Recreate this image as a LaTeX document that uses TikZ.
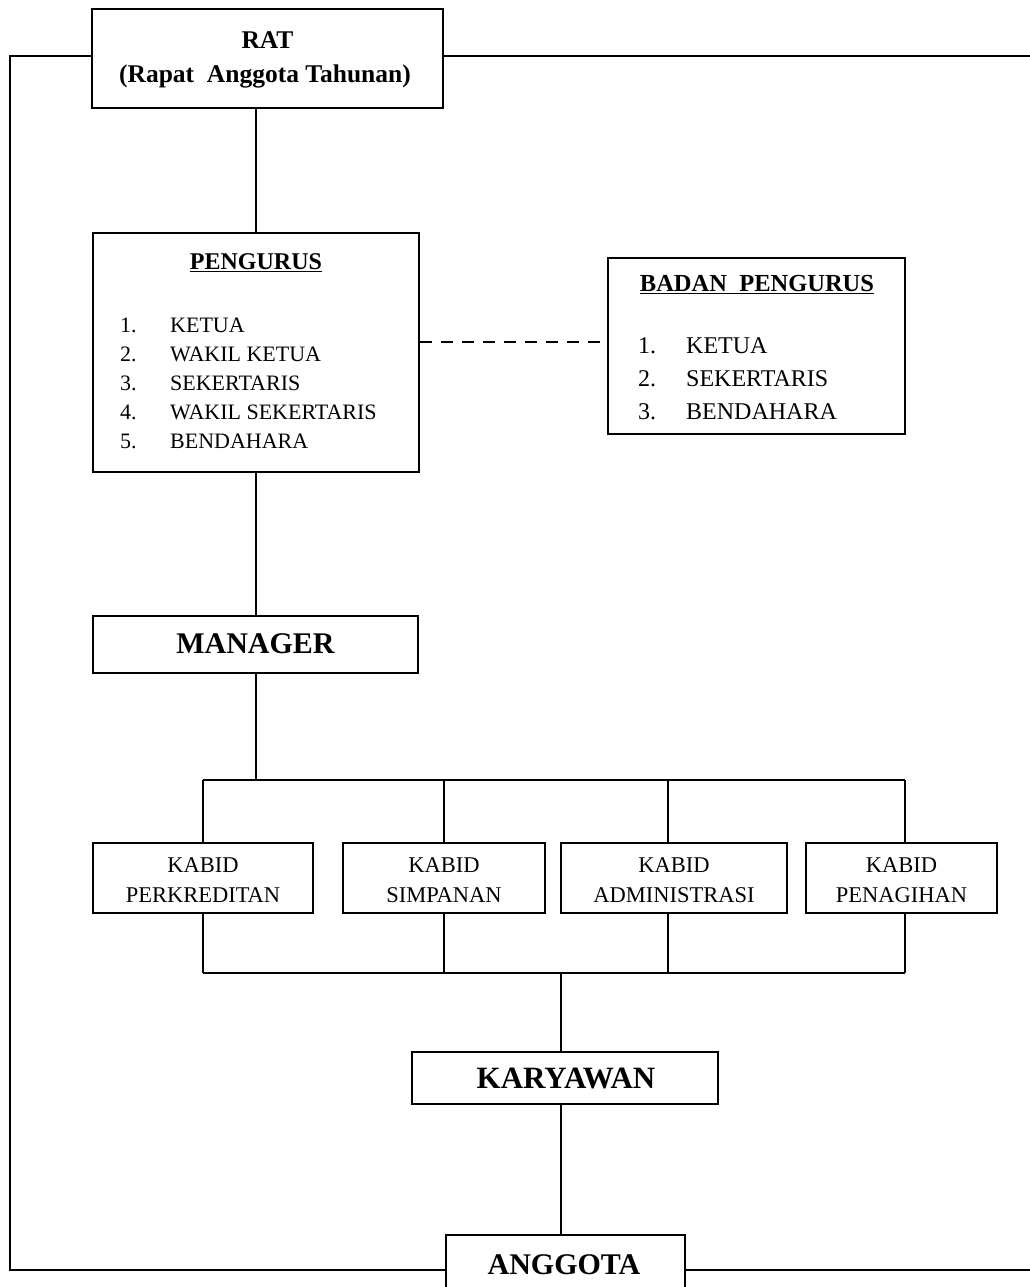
\documentclass[tikz,border=0pt]{standalone}
\usepackage{fontspec}
\setmainfont{Liberation Serif}
\begin{document}
\begin{tikzpicture}[x=1pt,y=-1pt,
  box/.style={draw,line width=1.8pt,rectangle,inner sep=0pt},
  conn/.style={line width=1.5pt},
  txt/.style={inner sep=0pt,align=center}]
\useasboundingbox (0,0) rectangle (1030,1287);
\clip (0,0) rectangle (1030,1287);
% boxes
\node[box,minimum width=351pt,minimum height=99pt] (rat) at (267.5,58.5) {};
\node[box,minimum width=326pt,minimum height=239pt] (peng) at (256,352.5) {};
\node[box,minimum width=297pt,minimum height=176pt] (badan) at (756.5,346) {};
\node[box,minimum width=325pt,minimum height=57pt] (mgr) at (255.5,644.5) {};
\node[box,minimum width=220pt,minimum height=70pt] (k1) at (203,878) {};
\node[box,minimum width=202pt,minimum height=70pt] (k2) at (444,878) {};
\node[box,minimum width=226pt,minimum height=70pt] (k3) at (674,878) {};
\node[box,minimum width=191pt,minimum height=70pt] (k4) at (901.5,878) {};
\node[box,minimum width=306pt,minimum height=52pt] (kary) at (565,1078) {};
\node[box,minimum width=239pt,minimum height=80pt] (angg) at (565.5,1275) {};
% texts
\node[txt,font=\fontsize{25.5}{30}\selectfont\bfseries] (ratt1) at (267.5,40) {RAT};
\node[txt,font=\fontsize{25.5}{30}\selectfont\bfseries] (ratt2) at (265,76) {(Rapat\ \ Anggota\ Tahunan)};
\node[txt,font=\fontsize{24}{30}\selectfont\bfseries] (pengt) at (256,263) {\underline{PENGURUS}};
\node[inner sep=0pt,anchor=base west,font=\fontsize{22}{29}\selectfont] (pengl) at (120,332)
 {\begin{tabular}[t]{@{}p{50pt}@{}l@{}}1.&KETUA\\2.&WAKIL KETUA\\3.&SEKERTARIS\\4.&WAKIL SEKERTARIS\\5.&BENDAHARA\end{tabular}};
\node[txt,font=\fontsize{24.5}{30}\selectfont\bfseries] (badant) at (757,285) {\underline{BADAN\ \ PENGURUS}};
\node[inner sep=0pt,anchor=base west,font=\fontsize{24}{33}\selectfont] (badanl) at (638,353)
 {\begin{tabular}[t]{@{}p{48pt}@{}l@{}}1.&KETUA\\2.&SEKERTARIS\\3.&BENDAHARA\end{tabular}};
\node[txt,font=\fontsize{30}{34}\selectfont\bfseries] (mgrt) at (255.5,644) {MANAGER};
\node[txt,font=\fontsize{22.5}{30}\selectfont] (k1t) at (203,880) {KABID\\PERKREDITAN};
\node[txt,font=\fontsize{22.5}{30}\selectfont] (k2t) at (444,880) {KABID\\SIMPANAN};
\node[txt,font=\fontsize{22.5}{30}\selectfont] (k3t) at (674,880) {KABID\\ADMINISTRASI};
\node[txt,font=\fontsize{22.5}{30}\selectfont] (k4t) at (901.5,880) {KABID\\PENAGIHAN};
\node[txt,font=\fontsize{31}{34}\selectfont\bfseries] (karyt) at (566,1078) {KARYAWAN};
\node[txt,font=\fontsize{30}{34}\selectfont\bfseries] (anggt) at (564,1265) {ANGGOTA};
% junction coordinates
\coordinate (tl) at (10,56);
\coordinate (tr) at (1030,56);
\coordinate (bl) at (10,1270);
\coordinate (br) at (1030,1270);
\coordinate (b1) at (203,780);
\coordinate (b2) at (444,780);
\coordinate (b3) at (668,780);
\coordinate (b4) at (905,780);
\coordinate (bm) at (256,780);
\coordinate (c1) at (203,973);
\coordinate (c2) at (444,973);
\coordinate (c3) at (668,973);
\coordinate (c4) at (905,973);
\coordinate (cm) at (561,973);
% connectors
\draw[conn] (rat.west |- tl) -- (tl) -- (bl) -- (angg.west |- bl);
\draw[conn] (rat.east |- tr) -- (tr);
\draw[conn] (angg.east |- br) -- (br);
\draw[conn] (rat.south -| 256,0) -- (peng.north -| 256,0);
\draw[conn,dash pattern=on 12pt off 9pt] (peng.east |- 0,342) -- (badan.west |- 0,342);
\draw[conn] (peng.south -| 256,0) -- (mgr.north -| 256,0);
\draw[conn] (mgr.south -| bm) -- (bm);
\draw[conn] (b1) -- (b4);
\draw[conn] (b1) -- (b1 |- k1.north);
\draw[conn] (b2) -- (b2 |- k2.north);
\draw[conn] (b3) -- (b3 |- k3.north);
\draw[conn] (b4) -- (b4 |- k4.north);
\draw[conn] (c1) -- (c4);
\draw[conn] (c1) -- (c1 |- k1.south);
\draw[conn] (c2) -- (c2 |- k2.south);
\draw[conn] (c3) -- (c3 |- k3.south);
\draw[conn] (c4) -- (c4 |- k4.south);
\draw[conn] (cm) -- (cm |- kary.north);
\draw[conn] (kary.south -| cm) -- (angg.north -| cm);
\end{tikzpicture}
\end{document}
